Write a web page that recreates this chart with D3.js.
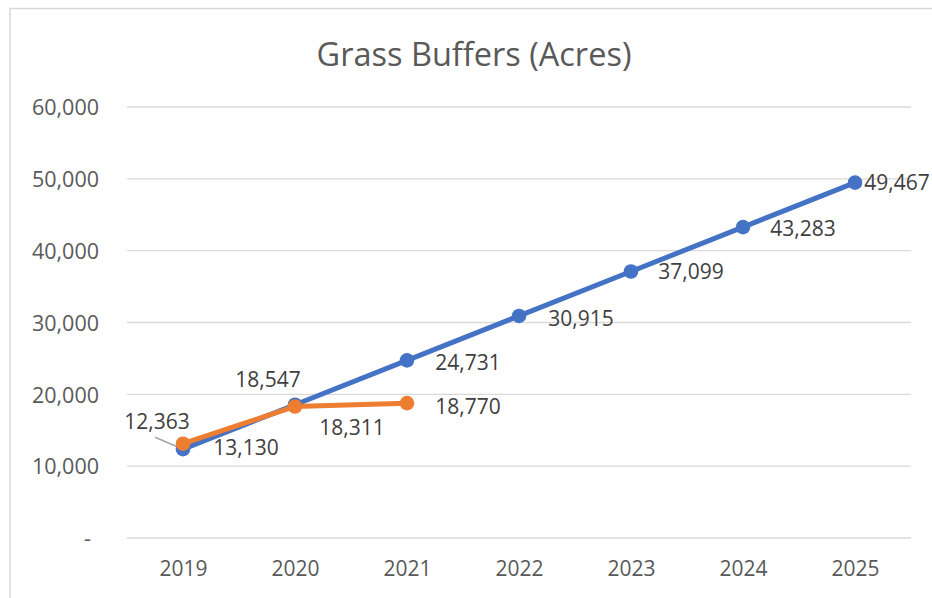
<!DOCTYPE html>
<html><head><meta charset="utf-8">
<script src="https://cdn.jsdelivr.net/npm/d3@7/dist/d3.min.js"></script>
<style>body{margin:0;background:#fff;}svg{display:block;font-family:"Open Sans",sans-serif;}</style>
</head><body>
<script>
const years = ["2019","2020","2021","2022","2023","2024","2025"];
const blueValues = [12363, 18547, 24731, 30915, 37099, 43283, 49467];
const orangeValues = [13130, 18311, 18770];
const yTicks = [0, 10000, 20000, 30000, 40000, 50000, 60000];
const title = "Grass Buffers (Acres)";

// label placement offsets (dx, dy from point, text centre)
const blueLabelOffsets = [[-26,-28],[-27,-25],[61,2],[62,3],[60,0],[60,1],[42,0]];
const orangeLabelOffsets = [[63,4],[57,21],[61,3]];

const W = 932, H = 598;
const svg = d3.select("body").append("svg").attr("width", W).attr("height", H);

// chart frame
svg.append("path").attr("d", `M10,${H} L10,8.5 L${W},8.5`).attr("fill","none")
  .attr("stroke","#d9d9d9").attr("stroke-width",1.5);

const x = d3.scalePoint().domain(years).range([127, 911]).padding(0.5);
const y = d3.scaleLinear().domain([0, 60000]).range([538, 107]);

// gridlines
svg.append("g").selectAll("line").data(yTicks).join("line")
  .attr("x1",127).attr("x2",911)
  .attr("y1",d=>y(d)).attr("y2",d=>y(d))
  .attr("stroke","#d9d9d9").attr("stroke-width",1.3);

// y axis labels
const fmt = d3.format(",");
const yAxis = d3.axisLeft(y).tickValues(yTicks).tickSize(0).tickPadding(0)
  .tickFormat(d => d === 0 ? "-" : fmt(d));
const yg = svg.append("g").attr("transform","translate(99,0)").call(yAxis);
yg.select(".domain").remove();
yg.selectAll("text").attr("font-family","Open Sans").attr("font-size",21.5).attr("fill","#595959")
  .attr("dy","0.36em").attr("dx", d => d===0 ? -8 : 0);

// x axis labels
const xAxis = d3.axisBottom(x).tickSize(0).tickPadding(0);
const xg = svg.append("g").attr("transform","translate(0,576)").call(xAxis);
xg.select(".domain").remove();
xg.selectAll("text").attr("font-family","Open Sans").attr("font-size",21).attr("fill","#595959").attr("dy",0);

// title
svg.append("text").attr("x",474).attr("y",66).attr("text-anchor","middle")
  .attr("font-size",32.5).attr("fill","#595959").text(title);

const line = d3.line().x(d=>x(d.year)).y(d=>y(d.v));
const blue = blueValues.map((v,i)=>({year:years[i], v}));
const orange = orangeValues.map((v,i)=>({year:years[i], v}));

// leader line for first blue label
svg.append("line")
  .attr("x1", x(years[0]) + blueLabelOffsets[0][0] - 2).attr("y1", y(blueValues[0]) + blueLabelOffsets[0][1] + 16)
  .attr("x2", x(years[0]) - 2).attr("y2", y(blueValues[0]) - 1)
  .attr("stroke","#a6a6a6").attr("stroke-width",1.5);

function series(data, color){
  svg.append("path").datum(data).attr("d",line).attr("fill","none")
    .attr("stroke",color).attr("stroke-width",5).attr("stroke-linejoin","round").attr("stroke-linecap","round");
  svg.append("g").selectAll("circle").data(data).join("circle")
    .attr("cx",d=>x(d.year)).attr("cy",d=>y(d.v)).attr("r",7.3).attr("fill",color);
}
series(blue, "#4472C4");
series(orange, "#ED7D31");

function labels(data, offs){
  svg.append("g").selectAll("text").data(data).join("text")
    .attr("x",(d,i)=>x(d.year)+offs[i][0]).attr("y",(d,i)=>y(d.v)+offs[i][1])
    .attr("text-anchor","middle").attr("dy","0.36em")
    .attr("font-size",21).attr("fill","#404040").text(d=>fmt(d.v));
}
labels(blue, blueLabelOffsets);
labels(orange, orangeLabelOffsets);
</script>
</body></html>
